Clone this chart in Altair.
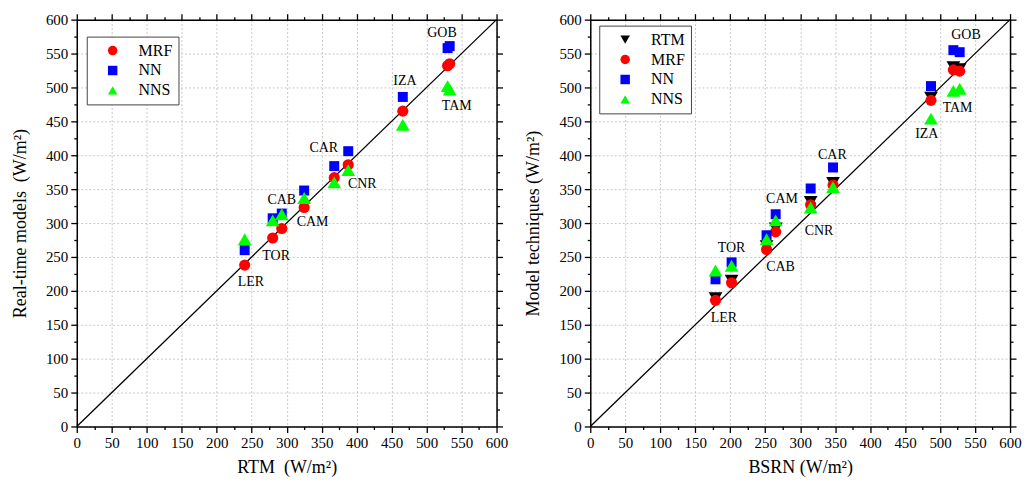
import altair as alt
import pandas as pd

FONT = "Liberation Serif"

stations = ["LER", "TOR", "CAB", "CAM", "CNR", "CAR", "IZA", "GOB", "TAM"]

# Left panel: x = RTM
rtm_left = [240, 280, 293, 325, 368, 388, 466, 530, 533]
mrf_left = [238, 278, 292, 323, 367, 386, 465, 532, 535]
nn_left = [260, 307, 314, 348, 384, 406, 486, 558, 561]
nns_left = [276, 304, 313, 337, 360, 378, 445, 502, 497]
label_x_left = [249, 285, 293, 337, 408, 353, 469, 522, 543]
label_y_left = [213, 251, 334, 302, 357, 411, 509, 580, 473]

# Right panel: x = BSRN
bsrn = [179, 202, 252, 265, 315, 347, 487, 519, 528]
rtm_right = [189, 215, 266, 292, 331, 359, 485, 530, 527]
mrf_right = [186, 212, 261, 287, 327, 356, 481, 526, 524]
nn_right = [217, 242, 282, 313, 351, 382, 502, 555, 552]
nns_right = [230, 237, 276, 304, 323, 353, 454, 495, 498]
label_x_right = [191, 202, 272, 274, 327, 346, 481, 537, 525]
label_y_right = [160, 263, 235, 335, 288, 401, 431, 578, 470]

diag_x = [0, 600]
diag_y = [0, 600]
tick_values = list(range(0, 601, 25))

MARKER_SIZE = {"RTM": 190, "MRF": 125, "NN": 100, "NNS": 190}


def long_df(xvals, series):
    rows = []
    for k, (name, vals) in enumerate(series):
        for st, xv, yv in zip(stations, xvals, vals):
            rows.append(dict(station=st, x=xv, y=yv, series=name, order=k))
    return pd.DataFrame(rows)


MAJOR = "datum.value % 50 === 0"
tick_size = {"condition": {"test": MAJOR, "value": 6}, "value": 3}
grid_op = {"condition": {"test": MAJOR, "value": 1}, "value": 0}


def main_axis(orient, title):
    return alt.Axis(
        orient=orient, values=tick_values, title=title,
        labelExpr=f"{MAJOR} ? datum.label : ''",
        labelOverlap=False, labelFlush=False,
        labelFont=FONT, titleFont=FONT,
        tickSize=tick_size, grid=True, gridOpacity=grid_op,
        titlePadding=8 if orient == "bottom" else 16,
    )


def mirror_axis(orient):
    return alt.Axis(
        orient=orient, values=tick_values, labels=False, title=None,
        tickSize=tick_size, grid=False,
    )


def panel(df, lab_df, xtitle, ytitle, domain, colors, shapes, lx, ly):
    diag = pd.DataFrame({"x": diag_x, "y": diag_y})
    xs = alt.Scale(domain=[0, 600], nice=False)
    ys = alt.Scale(domain=[0, 600], nice=False)
    line = alt.Chart(diag).mark_line(color="black", strokeWidth=1.3).encode(
        x=alt.X("x:Q", scale=xs, axis=main_axis("bottom", xtitle)),
        y=alt.Y("y:Q", scale=ys, axis=main_axis("left", ytitle)),
    )
    frame = alt.Chart(diag).mark_line(opacity=0).encode(
        x=alt.X("x:Q", scale=xs, axis=mirror_axis("top")),
        y=alt.Y("y:Q", scale=ys, axis=mirror_axis("right")),
    )
    leg = alt.Legend(title=None, orient="none", legendX=lx, legendY=ly,
                     labelFont=FONT)
    cscale = alt.Scale(domain=domain, range=colors)
    sscale = alt.Scale(domain=domain, range=shapes)
    layers = [line, frame]
    for name in domain:
        layers.append(
            alt.Chart(df).transform_filter(alt.datum.series == name)
            .mark_point(filled=True, opacity=1, size=MARKER_SIZE[name])
            .encode(
                x=alt.X("x:Q", scale=xs, axis=None),
                y=alt.Y("y:Q", scale=ys, axis=None),
                color=alt.Color("series:N", scale=cscale, legend=leg),
                shape=alt.Shape("series:N", scale=sscale, legend=leg),
            )
        )
    txt = alt.Chart(lab_df).mark_text(fontSize=14, font=FONT, color="black").encode(
        x=alt.X("lx:Q", scale=xs, axis=None),
        y=alt.Y("ly:Q", scale=ys, axis=None),
        text="station:N",
    )
    layers.append(txt)
    return (
        alt.layer(*layers)
        .resolve_axis(x="independent", y="independent")
        .properties(width=421, height=408)
    )


left_df = long_df(rtm_left, [("MRF", mrf_left), ("NN", nn_left), ("NNS", nns_left)])
right_df = long_df(bsrn, [("RTM", rtm_right), ("MRF", mrf_right), ("NN", nn_right), ("NNS", nns_right)])
left_lab = pd.DataFrame({"station": stations, "lx": label_x_left, "ly": label_y_left})
right_lab = pd.DataFrame({"station": stations, "lx": label_x_right, "ly": label_y_right})

left = panel(
    left_df, left_lab, "RTM\u00a0\u00a0(W/m\u00b2)", "Real-time models\u00a0\u00a0(W/m\u00b2)",
    ["MRF", "NN", "NNS"], ["#ff0000", "#0000ff", "#00ff00"],
    ["circle", "square", "triangle-up"], 10, 17,
)
right = panel(
    right_df, right_lab, "BSRN (W/m\u00b2)", "Model techniques (W/m\u00b2)",
    ["RTM", "MRF", "NN", "NNS"], ["#000000", "#ff0000", "#0000ff", "#00ff00"],
    ["triangle-down", "circle", "square", "triangle-up"], 9, 6,
)

chart = (
    alt.hconcat(left, right, spacing=16)
    .resolve_scale(color="independent", shape="independent")
    .resolve_legend(color="independent", shape="independent")
    .properties(padding={"left": 11, "top": 12, "right": 5, "bottom": 5})
    .configure(font=FONT)
    .configure_view(stroke=None)
    .configure_axis(
        labelFont=FONT, titleFont=FONT, labelFontSize=15, titleFontSize=18,
        titleFontWeight="normal", labelColor="black", titleColor="black",
        domainColor="black", domainWidth=1.5, tickColor="black", tickWidth=1.3,
        gridColor="#c8c8c8", gridDash=[2, 2], gridWidth=1, labelPadding=3,
    )
    .configure_legend(
        labelFont=FONT, labelFontSize=16, labelColor="black",
        strokeColor="#444444", fillColor="white", padding=6,
        symbolSize=90, rowPadding=4, symbolOffset=12, labelOffset=18,
        cornerRadius=0,
    )
)

chart.save("out.html", embed_options={"renderer": "svg", "actions": False})
